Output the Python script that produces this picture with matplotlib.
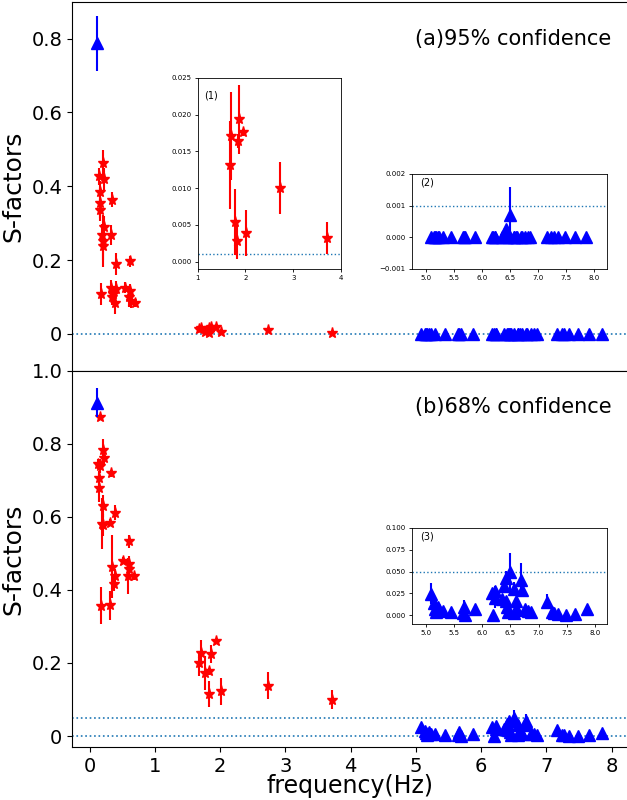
import matplotlib
matplotlib.use('Agg')
import matplotlib.pyplot as plt

# low frequency red stars, panel (a) 95% confidence
lf_freq_a = [0.143, 0.153, 0.153, 0.158, 0.173, 0.194, 0.204, 0.204, 0.210, 0.219, 0.225,
             0.322, 0.322, 0.337, 0.347, 0.362, 0.388, 0.403, 0.408, 0.536, 0.607, 0.618,
             0.618, 0.628, 0.699]
lf_s95 = [0.427, 0.383, 0.355, 0.336, 0.108, 0.267, 0.463, 0.251, 0.239, 0.289, 0.420,
          0.267, 0.125, 0.099, 0.363, 0.108, 0.084, 0.190, 0.122, 0.125, 0.101, 0.196,
          0.116, 0.090, 0.084]
lf_err95 = [0.023, 0.030, 0.040, 0.030, 0.030, 0.030, 0.035, 0.070, 0.040, 0.030, 0.030,
            0.027, 0.020, 0.020, 0.020, 0.020, 0.030, 0.030, 0.020, 0.015, 0.027, 0.016,
            0.020, 0.020, 0.010]

# low frequency red stars, panel (b) 68% confidence
lf_freq_b = [0.158, 0.209, 0.214, 0.133, 0.158, 0.148, 0.332, 0.148, 0.199, 0.388, 0.306,
             0.194, 0.209, 0.597, 0.510, 0.597, 0.602, 0.337, 0.587, 0.679, 0.393, 0.372,
             0.168, 0.306]
lf_s68 = [0.873, 0.782, 0.760, 0.744, 0.739, 0.705, 0.719, 0.680, 0.630, 0.611, 0.584,
          0.581, 0.578, 0.533, 0.480, 0.472, 0.457, 0.464, 0.438, 0.437, 0.438, 0.416,
          0.357, 0.358]
lf_err68 = [0.005, 0.030, 0.020, 0.014, 0.020, 0.020, 0.010, 0.040, 0.030, 0.020, 0.010,
            0.070, 0.030, 0.017, 0.010, 0.020, 0.020, 0.085, 0.050, 0.010, 0.020, 0.020,
            0.050, 0.040]

# the single blue point at low frequency
lb_freq = [0.117]
lb_s95 = [0.787]
lb_err95 = [0.075]
lb_s68 = [0.912]
lb_err68 = [0.040]

# mid frequency red stars
mid_freq = [1.684, 1.705, 1.775, 1.830, 1.837, 1.858, 1.942, 2.012, 2.731, 3.715]
mid_s95 = [0.0131, 0.0171, 0.0054, 0.0028, 0.0164, 0.0194, 0.0176, 0.0039, 0.0100, 0.0032]
mid_err95 = [0.0060, 0.0060, 0.0045, 0.0025, 0.0010, 0.0047, 0.0005, 0.0031, 0.0035, 0.0022]
mid_s68 = [0.199, 0.226, 0.172, 0.115, 0.177, 0.225, 0.259, 0.122, 0.138, 0.099]
mid_err68 = [0.035, 0.037, 0.047, 0.036, 0.010, 0.024, 0.005, 0.037, 0.036, 0.026]

# high frequency blue triangles
hf_freq = [5.083, 5.143, 5.155, 5.167, 5.208, 5.232, 5.298, 5.440, 5.649, 5.667, 5.690,
           5.875, 6.173, 6.190, 6.220, 6.226, 6.351, 6.393, 6.417, 6.423, 6.440, 6.452,
           6.500, 6.560, 6.571, 6.595, 6.619, 6.690, 6.702, 6.762, 6.810, 6.857, 7.155,
           7.232, 7.274, 7.345, 7.482, 7.649, 7.857]
hf_s95 = [0.0] * 17 + [0.0001, 0.0, 0.00025, 0.0, 0.0, 0.0007] + [0.0] * 16
hf_err95 = [0.0] * 22 + [0.0009] + [0.0] * 16
hf_s68 = [0.0245, 0.0138, 0.0077, 0.0042, 0.0100, 0.0061, 0.0054, 0.0042, 0.0031, 0.0100,
          0.0004, 0.0069, 0.0253, 0.0000, 0.0280, 0.0195, 0.0184, 0.0337, 0.0169, 0.0425,
          0.0100, 0.0042, 0.0498, 0.0299, 0.0023, 0.0169, 0.0061, 0.0406, 0.0291, 0.0069,
          0.0054, 0.0038, 0.0157, 0.0042, 0.0023, 0.0011, 0.0000, 0.0015, 0.0073]
hf_err68 = [0.012, 0.004, 0.002, 0.002, 0.003, 0.002, 0.002, 0.001, 0.002, 0.008, 0.001,
            0.002, 0.005, 0.001, 0.006, 0.011, 0.004, 0.007, 0.004, 0.008, 0.003, 0.002,
            0.0215, 0.008, 0.001, 0.004, 0.002, 0.019, 0.006, 0.002, 0.001, 0.001, 0.009,
            0.001, 0.001, 0.001, 0.001, 0.001, 0.002]

LINE_C = '#1f77b4'
STAR = dict(fmt='r*', ms=8, elinewidth=1.5, ecolor='r', zorder=3)
TRI = dict(fmt='b^', ms=8, elinewidth=1.5, ecolor='b', zorder=4)


def stars(ax, x, y, e):
    ax.errorbar(x, y, yerr=e, **STAR)


def tris(ax, x, y, e):
    ax.errorbar(x, y, yerr=e, **TRI)


fig = plt.figure(figsize=(6.27, 8.0), dpi=100)

ax1 = fig.add_axes([0.1148, 0.5366, 0.8868, 0.4613])
ax2 = fig.add_axes([0.1148, 0.06625, 0.8868, 0.4704], sharex=ax1)

# panel (a)
stars(ax1, lf_freq_a, lf_s95, lf_err95)
stars(ax1, mid_freq, mid_s95, mid_err95)
tris(ax1, lb_freq, lb_s95, lb_err95)
tris(ax1, hf_freq, hf_s95, hf_err95)
ax1.axhline(0, color=LINE_C, ls=':', lw=1.2, zorder=1)
ax1.set_ylim(-0.1, 0.9)
ax1.set_yticks([0, 0.2, 0.4, 0.6, 0.8])
ax1.set_yticklabels(['0', '0.2', '0.4', '0.6', '0.8'])
ax1.tick_params(labelsize=14)
plt.setp(ax1.get_xticklabels(), visible=False)
ax1.set_ylabel('S-factors', fontsize=18)
ax1.text(0.617, 0.90, '(a)95% confidence', transform=ax1.transAxes,
         fontsize=15, ha='left', va='center')

# panel (b)
stars(ax2, lf_freq_b, lf_s68, lf_err68)
stars(ax2, mid_freq, mid_s68, mid_err68)
tris(ax2, lb_freq, lb_s68, lb_err68)
tris(ax2, hf_freq, hf_s68, hf_err68)
ax2.axhline(0, color=LINE_C, ls=':', lw=1.2, zorder=1)
ax2.axhline(0.05, color=LINE_C, ls=':', lw=1.2, zorder=1)
ax2.set_ylim(-0.03, 1.0)
ax2.set_yticks([0, 0.2, 0.4, 0.6, 0.8, 1.0])
ax2.set_yticklabels(['0', '0.2', '0.4', '0.6', '0.8', '1.0'])
ax2.set_xlim(-0.27, 8.25)
ax2.set_xticks(range(9))
ax2.tick_params(labelsize=14)
ax2.set_ylabel('S-factors', fontsize=18)
ax2.set_xlabel('frequency(Hz)', fontsize=17, labelpad=-1)
ax2.text(0.617, 0.903, '(b)68% confidence', transform=ax2.transAxes,
         fontsize=15, ha='left', va='center')
fig.align_ylabels([ax1, ax2])


def inset(rect, label):
    ax = fig.add_axes(rect)
    ax.tick_params(labelsize=5, length=2.5, width=0.6, pad=2)
    for s in ax.spines.values():
        s.set_linewidth(0.6)
    ax.text(0.045, 0.91, label, transform=ax.transAxes, fontsize=7,
            ha='left', va='center')
    return ax


# inset (1)
in1 = inset([0.3153, 0.6638, 0.2286, 0.2388], '(1)')
stars(in1, mid_freq, mid_s95, mid_err95)
in1.axhline(0.001, color=LINE_C, ls=':', lw=1.0, zorder=1)
in1.set_xlim(1, 4)
in1.set_ylim(-0.001, 0.025)
in1.set_xticks([1, 2, 3, 4])
in1.set_yticks([0, 0.005, 0.01, 0.015, 0.02, 0.025])
in1.set_yticklabels(['0.000', '0.005', '0.010', '0.015', '0.020', '0.025'])

# inset (2)
in2 = inset([0.6566, 0.6638, 0.311, 0.1188], '(2)')
tris(in2, hf_freq, hf_s95, hf_err95)
in2.axhline(0.001, color=LINE_C, ls=':', lw=1.0, zorder=1)
in2.set_xlim(4.74, 8.22)
in2.set_ylim(-0.001, 0.002)
in2.set_xticks([5.0, 5.5, 6.0, 6.5, 7.0, 7.5, 8.0])
in2.set_yticks([-0.001, 0, 0.001, 0.002])
in2.set_yticklabels(['\u22120.001', '0.000', '0.001', '0.002'])

# inset (3)
in3 = inset([0.6566, 0.22, 0.3115, 0.12], '(3)')
tris(in3, hf_freq, hf_s68, hf_err68)
in3.axhline(0.05, color=LINE_C, ls=':', lw=1.0, zorder=1)
in3.set_xlim(4.74, 8.22)
in3.set_ylim(-0.01, 0.1)
in3.set_xticks([5.0, 5.5, 6.0, 6.5, 7.0, 7.5, 8.0])
in3.set_yticks([0, 0.025, 0.05, 0.075, 0.1])
in3.set_yticklabels(['0.000', '0.025', '0.050', '0.075', '0.100'])

fig.savefig('out.png', dpi=100)
